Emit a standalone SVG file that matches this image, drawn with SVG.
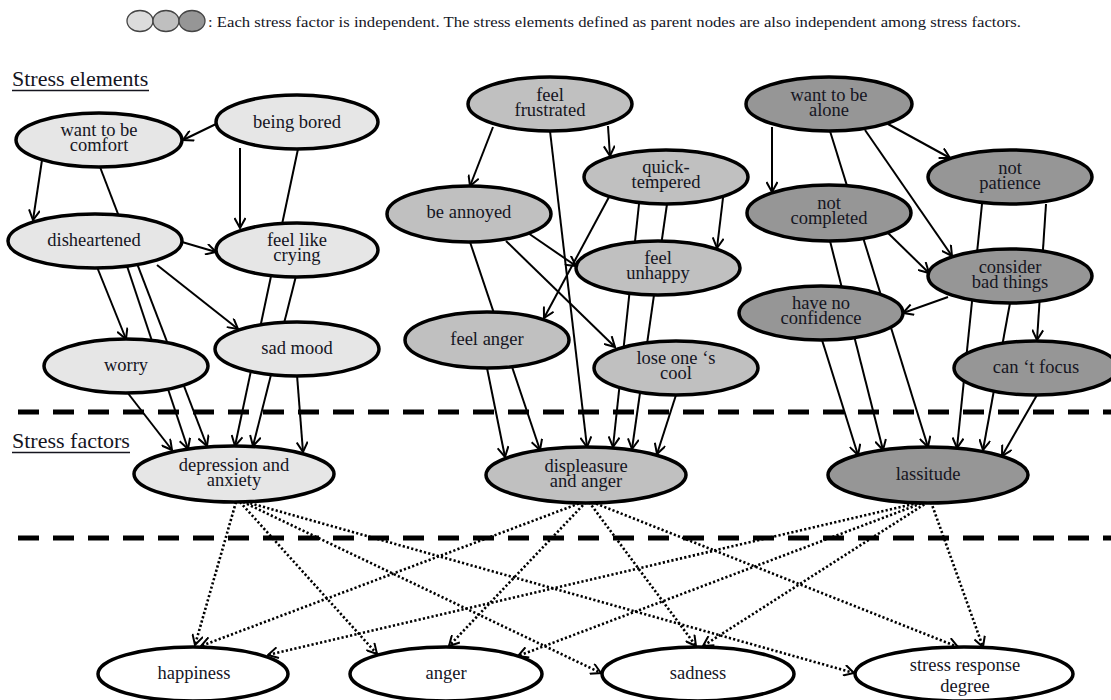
<svg xmlns="http://www.w3.org/2000/svg" width="1111" height="700" viewBox="0 0 1111 700" font-family="'Liberation Serif', 'DejaVu Serif', 'Times New Roman', serif">
  <defs>
    <style>
      text { font-family: "Liberation Serif", "DejaVu Serif", "Times New Roman", serif; fill: #15151f; }
      .lbl { font-size: 18.5px; text-anchor: middle; }
      .sec { font-size: 22px; }
      .node { stroke: #000; stroke-width: 3.5; }
      .g1 { fill: #e6e6e6; }
      .g2 { fill: #c0c0c0; }
      .g3 { fill: #969696; }
      .resp { fill: #ffffff; }
      .edge { stroke: #000; stroke-width: 2; fill: none; marker-end: url(#arrow); }
      .dot { stroke: #000; stroke-width: 2.6; fill: none; stroke-dasharray: 2.2 2.2; marker-end: url(#arrowDot); }
      .sep { stroke: #000; stroke-width: 5; stroke-dasharray: 21 14; }
    </style>
    <marker id="arrow" viewBox="0 0 12 12" refX="11" refY="6" markerWidth="12" markerHeight="12" markerUnits="userSpaceOnUse" orient="auto">
      <path d="M1,0.5 L11,6 L1,11.5" fill="none" stroke="#000" stroke-width="2"/>
    </marker>
    <marker id="arrowDot" viewBox="0 0 12 12" refX="11" refY="6" markerWidth="12" markerHeight="12" markerUnits="userSpaceOnUse" orient="auto">
      <path d="M1,0.5 L11,6 L1,11.5" fill="none" stroke="#000" stroke-width="2" stroke-dasharray="none"/>
    </marker>
  </defs>

  <rect x="0" y="0" width="1111" height="700" fill="#ffffff"/>

  <!-- legend -->
  <g id="legend">
    <ellipse cx="140" cy="21" rx="13" ry="10.5" fill="#dcdcdc" stroke="#444" stroke-width="1.3"/>
    <ellipse cx="166" cy="21" rx="13" ry="10.5" fill="#bfbfbf" stroke="#444" stroke-width="1.3"/>
    <ellipse cx="192" cy="21" rx="13" ry="10.5" fill="#969696" stroke="#444" stroke-width="1.3"/>
    <text x="208" y="27" font-size="15" textLength="813" lengthAdjust="spacingAndGlyphs">: Each stress factor is independent. The stress elements defined as parent nodes are also independent among stress factors.</text>
  </g>

  <!-- section headings -->
  <g id="headings">
    <text class="sec" x="12" y="86">Stress elements</text>
    <line x1="12" y1="90.5" x2="149" y2="90.5" stroke="#15151f" stroke-width="1.4"/>
    <text class="sec" x="12" y="448">Stress factors</text>
    <line x1="12" y1="452.5" x2="130" y2="452.5" stroke="#15151f" stroke-width="1.4"/>
  </g>

  <!-- layer separators -->
  <g id="separators">
    <line class="sep" x1="18" y1="412" x2="1111" y2="412"/>
    <line class="sep" x1="18" y1="538" x2="1111" y2="538"/>
  </g>

  <!-- connectors -->
  <g id="connectors">
    <!-- depression and anxiety cluster -->
    <line class="edge" x1="216" y1="124" x2="183" y2="140"/>
    <line class="edge" x1="42" y1="160" x2="33" y2="220"/>
    <line class="edge" x1="100" y1="167" x2="207" y2="446"/>
    <line class="edge" x1="182" y1="242" x2="216" y2="252"/>
    <line class="edge" x1="97" y1="267" x2="126" y2="339"/>
    <line class="edge" x1="127" y1="266" x2="188" y2="449"/>
    <line class="edge" x1="157" y1="265" x2="238" y2="329"/>
    <line class="edge" x1="240" y1="148" x2="240" y2="228"/>
    <line class="edge" x1="298" y1="149" x2="235" y2="446"/>
    <line class="edge" x1="296" y1="276" x2="253" y2="446"/>
    <line class="edge" x1="297" y1="375" x2="303" y2="452"/>
    <line class="edge" x1="127" y1="392" x2="172" y2="450"/>

    <!-- displeasure and anger cluster -->
    <line class="edge" x1="493" y1="127" x2="470" y2="186"/>
    <line class="edge" x1="550" y1="131" x2="587" y2="447"/>
    <line class="edge" x1="608" y1="126" x2="610" y2="156"/>
    <line class="edge" x1="609" y1="197" x2="544" y2="318"/>
    <line class="edge" x1="639" y1="204" x2="613" y2="447"/>
    <line class="edge" x1="667" y1="204" x2="632" y2="449"/>
    <line class="edge" x1="723" y1="198" x2="717" y2="248"/>
    <line class="edge" x1="528" y1="233" x2="576" y2="266"/>
    <line class="edge" x1="506" y1="241" x2="615" y2="347"/>
    <line class="edge" x1="470" y1="242" x2="540" y2="450"/>
    <line class="edge" x1="487" y1="368" x2="505" y2="457"/>
    <line class="edge" x1="676" y1="395" x2="657" y2="454"/>

    <!-- lassitude cluster -->
    <line class="edge" x1="772" y1="127" x2="772" y2="192"/>
    <line class="edge" x1="830" y1="131" x2="928" y2="447"/>
    <line class="edge" x1="865" y1="130" x2="952" y2="256"/>
    <line class="edge" x1="888" y1="124" x2="950" y2="158"/>
    <line class="edge" x1="888" y1="233" x2="929" y2="273"/>
    <line class="edge" x1="830" y1="241" x2="883" y2="450"/>
    <line class="edge" x1="822" y1="340" x2="858" y2="455"/>
    <line class="edge" x1="982" y1="204" x2="957" y2="448"/>
    <line class="edge" x1="1046" y1="204" x2="1037" y2="340"/>
    <line class="edge" x1="948" y1="297" x2="903" y2="313"/>
    <line class="edge" x1="1010" y1="303" x2="983" y2="450"/>
    <line class="edge" x1="1037" y1="395" x2="1002" y2="456"/>

    <!-- stress factors to responses -->
    <line class="dot" x1="236" y1="502" x2="195" y2="645"/>
    <line class="dot" x1="240" y1="502" x2="377" y2="654"/>
    <line class="dot" x1="243" y1="502" x2="601" y2="673"/>
    <line class="dot" x1="246" y1="502" x2="854" y2="673"/>
    <line class="dot" x1="583" y1="502" x2="201" y2="646"/>
    <line class="dot" x1="586" y1="502" x2="449" y2="646"/>
    <line class="dot" x1="589" y1="502" x2="696" y2="646"/>
    <line class="dot" x1="592" y1="502" x2="958" y2="647"/>
    <line class="dot" x1="922" y1="502" x2="268" y2="655"/>
    <line class="dot" x1="925" y1="502" x2="518" y2="656"/>
    <line class="dot" x1="928" y1="502" x2="703" y2="646"/>
    <line class="dot" x1="931" y1="502" x2="983" y2="647"/>
  </g>

  <!-- stress elements: depression and anxiety group -->
  <g id="want-to-be-comfort">
    <ellipse class="node g1" cx="99" cy="140" rx="83" ry="27"/>
    <text class="lbl" x="99" y="136">want to be</text>
    <text class="lbl" x="99" y="151">comfort</text>
  </g>
  <g id="being-bored">
    <ellipse class="node g1" cx="297" cy="122" rx="81" ry="27"/>
    <text class="lbl" x="297" y="128">being bored</text>
  </g>
  <g id="disheartened">
    <ellipse class="node g1" cx="95" cy="241" rx="87" ry="27"/>
    <text class="lbl" x="94" y="246" font-size="16.5">disheartened</text>
  </g>
  <g id="feel-like-crying">
    <ellipse class="node g1" cx="297" cy="250" rx="81" ry="27"/>
    <text class="lbl" x="297" y="246">feel like</text>
    <text class="lbl" x="297" y="261">crying</text>
  </g>
  <g id="worry">
    <ellipse class="node g1" cx="126" cy="366" rx="82" ry="27"/>
    <text class="lbl" x="126" y="371">worry</text>
  </g>
  <g id="sad-mood">
    <ellipse class="node g1" cx="297" cy="349" rx="82" ry="27"/>
    <text class="lbl" x="297" y="354">sad mood</text>
  </g>

  <!-- stress elements: displeasure and anger group -->
  <g id="feel-frustrated">
    <ellipse class="node g2" cx="550" cy="104" rx="82" ry="27"/>
    <text class="lbl" x="550" y="101">feel</text>
    <text class="lbl" x="550" y="116">frustrated</text>
  </g>
  <g id="quick-tempered">
    <ellipse class="node g2" cx="666" cy="177" rx="82" ry="27"/>
    <text class="lbl" x="666" y="173">quick-</text>
    <text class="lbl" x="666" y="188">tempered</text>
  </g>
  <g id="be-annoyed">
    <ellipse class="node g2" cx="469" cy="214" rx="82" ry="28"/>
    <text class="lbl" x="469" y="218">be annoyed</text>
  </g>
  <g id="feel-unhappy">
    <ellipse class="node g2" cx="658" cy="268" rx="82" ry="27"/>
    <text class="lbl" x="658" y="264">feel</text>
    <text class="lbl" x="658" y="279">unhappy</text>
  </g>
  <g id="feel-anger">
    <ellipse class="node g2" cx="487" cy="340" rx="82" ry="28"/>
    <text class="lbl" x="487" y="345">feel anger</text>
  </g>
  <g id="lose-ones-cool">
    <ellipse class="node g2" cx="676" cy="368" rx="82" ry="27"/>
    <text class="lbl" x="676" y="364">lose one ‘s</text>
    <text class="lbl" x="676" y="379">cool</text>
  </g>

  <!-- stress elements: lassitude group -->
  <g id="want-to-be-alone">
    <ellipse class="node g3" cx="829" cy="104" rx="83" ry="27"/>
    <text class="lbl" x="829" y="101">want to be</text>
    <text class="lbl" x="829" y="116">alone</text>
  </g>
  <g id="not-patience">
    <ellipse class="node g3" cx="1010" cy="177" rx="82" ry="27"/>
    <text class="lbl" x="1010" y="174">not</text>
    <text class="lbl" x="1010" y="189">patience</text>
  </g>
  <g id="not-completed">
    <ellipse class="node g3" cx="829" cy="213" rx="82" ry="28"/>
    <text class="lbl" x="829" y="209">not</text>
    <text class="lbl" x="829" y="224">completed</text>
  </g>
  <g id="consider-bad-things">
    <ellipse class="node g3" cx="1010" cy="276" rx="82" ry="27"/>
    <text class="lbl" x="1010" y="273">consider</text>
    <text class="lbl" x="1010" y="288">bad things</text>
  </g>
  <g id="have-no-confidence">
    <ellipse class="node g3" cx="821" cy="313" rx="82" ry="27"/>
    <text class="lbl" x="821" y="309">have no</text>
    <text class="lbl" x="821" y="324">confidence</text>
  </g>
  <g id="cant-focus">
    <ellipse class="node g3" cx="1036" cy="368" rx="82" ry="27"/>
    <text class="lbl" x="1036" y="373">can ‘t focus</text>
  </g>

  <!-- stress factors -->
  <g id="depression-and-anxiety">
    <ellipse class="node g1" cx="234" cy="474" rx="100" ry="28"/>
    <text class="lbl" x="234" y="471">depression and</text>
    <text class="lbl" x="234" y="486">anxiety</text>
  </g>
  <g id="displeasure-and-anger">
    <ellipse class="node g2" cx="586" cy="475" rx="100" ry="28"/>
    <text class="lbl" x="586" y="472">displeasure</text>
    <text class="lbl" x="586" y="487">and anger</text>
  </g>
  <g id="lassitude">
    <ellipse class="node g3" cx="928" cy="475" rx="100" ry="28"/>
    <text class="lbl" x="928" y="480">lassitude</text>
  </g>

  <!-- responses -->
  <g id="happiness">
    <ellipse class="node resp" cx="193" cy="674" rx="95" ry="27"/>
    <text class="lbl" x="194" y="679">happiness</text>
  </g>
  <g id="anger">
    <ellipse class="node resp" cx="446" cy="674" rx="96" ry="27"/>
    <text class="lbl" x="446" y="679">anger</text>
  </g>
  <g id="sadness">
    <ellipse class="node resp" cx="698" cy="674" rx="96" ry="27"/>
    <text class="lbl" x="698" y="679">sadness</text>
  </g>
  <g id="stress-response-degree">
    <ellipse class="node resp" cx="964" cy="674" rx="109" ry="27"/>
    <text class="lbl" x="965" y="671">stress response</text>
    <text class="lbl" x="965" y="692">degree</text>
  </g>
</svg>
